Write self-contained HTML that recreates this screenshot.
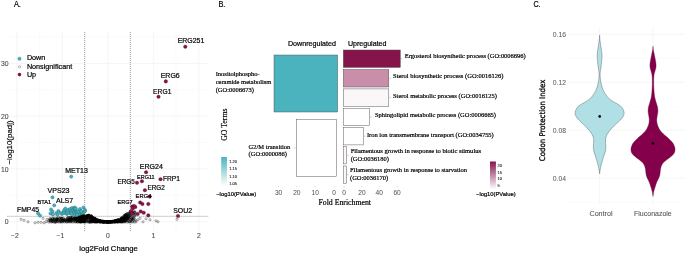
<!DOCTYPE html>
<html lang="en"><head><meta charset="utf-8"><title>Figure</title>
<style>
html,body{margin:0;padding:0;background:#fff;}
body{width:685px;height:254px;overflow:hidden;}
svg{display:block}
.s{font-family:"Liberation Sans", Arial, Helvetica, sans-serif;}
.r{font-family:"Liberation Serif", "Times New Roman", Times, serif;}
.d{font-family:"DejaVu Sans", "Liberation Sans", sans-serif;}
</style></head><body>
<svg width="685" height="254" viewBox="0 0 685 254">
<rect width="685" height="254" fill="#fff"/>
<g id="panelA">
<line x1="39.55" x2="39.55" y1="32" y2="232" stroke="#f5f5f5" stroke-width="0.4"/>
<line x1="85.05" x2="85.05" y1="32" y2="232" stroke="#f5f5f5" stroke-width="0.4"/>
<line x1="130.55" x2="130.55" y1="32" y2="232" stroke="#f5f5f5" stroke-width="0.4"/>
<line x1="176.05" x2="176.05" y1="32" y2="232" stroke="#f5f5f5" stroke-width="0.4"/>
<line x1="7.4" x2="208.2" y1="195.23" y2="195.23" stroke="#f5f5f5" stroke-width="0.4"/>
<line x1="7.4" x2="208.2" y1="142.50" y2="142.50" stroke="#f5f5f5" stroke-width="0.4"/>
<line x1="7.4" x2="208.2" y1="89.78" y2="89.78" stroke="#f5f5f5" stroke-width="0.4"/>
<line x1="7.4" x2="208.2" y1="37.05" y2="37.05" stroke="#f5f5f5" stroke-width="0.4"/>
<line x1="16.80" x2="16.80" y1="32" y2="232" stroke="#efefef" stroke-width="0.6"/>
<line x1="62.30" x2="62.30" y1="32" y2="232" stroke="#efefef" stroke-width="0.6"/>
<line x1="107.80" x2="107.80" y1="32" y2="232" stroke="#efefef" stroke-width="0.6"/>
<line x1="153.30" x2="153.30" y1="32" y2="232" stroke="#efefef" stroke-width="0.6"/>
<line x1="198.80" x2="198.80" y1="32" y2="232" stroke="#efefef" stroke-width="0.6"/>
<line x1="7.4" x2="208.2" y1="221.60" y2="221.60" stroke="#efefef" stroke-width="0.6"/>
<line x1="7.4" x2="208.2" y1="168.87" y2="168.87" stroke="#efefef" stroke-width="0.6"/>
<line x1="7.4" x2="208.2" y1="116.14" y2="116.14" stroke="#efefef" stroke-width="0.6"/>
<line x1="7.4" x2="208.2" y1="63.41" y2="63.41" stroke="#efefef" stroke-width="0.6"/>
<line x1="84.7" x2="84.7" y1="32" y2="232" stroke="#5a5a5a" stroke-width="0.6" stroke-dasharray="1 1"/>
<line x1="130.3" x2="130.3" y1="32" y2="232" stroke="#5a5a5a" stroke-width="0.6" stroke-dasharray="1 1"/>
<line x1="7.4" x2="208.2" y1="216.3" y2="216.3" stroke="#5a5a5a" stroke-width="0.6" stroke-dasharray="1 1"/>
<g fill="none" stroke="#000" stroke-width="0.35">
<circle cx="88.1" cy="217.2" r="1.1"/>
<circle cx="109.8" cy="221.8" r="1.1"/>
<circle cx="108.2" cy="222.0" r="1.1"/>
<circle cx="83.5" cy="221.1" r="1.1"/>
<circle cx="126.2" cy="220.6" r="1.1"/>
<circle cx="115.0" cy="220.8" r="1.1"/>
<circle cx="102.0" cy="221.1" r="1.1"/>
<circle cx="128.0" cy="218.5" r="1.1"/>
<circle cx="86.2" cy="219.4" r="1.1"/>
<circle cx="115.4" cy="221.1" r="1.1"/>
<circle cx="110.5" cy="222.0" r="1.1"/>
<circle cx="91.2" cy="217.3" r="1.1"/>
<circle cx="97.3" cy="220.5" r="1.1"/>
<circle cx="96.5" cy="219.7" r="1.1"/>
<circle cx="93.4" cy="219.0" r="1.1"/>
<circle cx="129.0" cy="213.3" r="1.1"/>
<circle cx="124.1" cy="220.8" r="1.1"/>
<circle cx="81.8" cy="217.0" r="1.1"/>
<circle cx="82.8" cy="219.4" r="1.1"/>
<circle cx="113.1" cy="221.5" r="1.1"/>
<circle cx="127.0" cy="213.4" r="1.1"/>
<circle cx="117.1" cy="221.8" r="1.1"/>
<circle cx="116.1" cy="220.5" r="1.1"/>
<circle cx="95.5" cy="220.8" r="1.1"/>
<circle cx="117.3" cy="221.9" r="1.1"/>
<circle cx="89.1" cy="220.6" r="1.1"/>
<circle cx="122.9" cy="221.1" r="1.1"/>
<circle cx="101.6" cy="221.1" r="1.1"/>
<circle cx="104.9" cy="221.7" r="1.1"/>
<circle cx="119.3" cy="221.0" r="1.1"/>
<circle cx="99.8" cy="220.7" r="1.1"/>
<circle cx="83.1" cy="220.6" r="1.1"/>
<circle cx="92.7" cy="220.5" r="1.1"/>
<circle cx="112.8" cy="221.8" r="1.1"/>
<circle cx="103.2" cy="221.7" r="1.1"/>
<circle cx="117.7" cy="221.8" r="1.1"/>
<circle cx="113.0" cy="221.4" r="1.1"/>
<circle cx="102.1" cy="221.9" r="1.1"/>
<circle cx="83.1" cy="221.3" r="1.1"/>
<circle cx="88.7" cy="218.5" r="1.1"/>
<circle cx="79.6" cy="220.6" r="1.1"/>
<circle cx="100.1" cy="222.0" r="1.1"/>
<circle cx="80.5" cy="217.4" r="1.1"/>
<circle cx="93.8" cy="220.2" r="1.1"/>
<circle cx="86.5" cy="215.9" r="1.1"/>
<circle cx="92.5" cy="221.3" r="1.1"/>
<circle cx="98.9" cy="221.4" r="1.1"/>
<circle cx="111.1" cy="221.9" r="1.1"/>
<circle cx="81.1" cy="217.9" r="1.1"/>
<circle cx="121.6" cy="220.6" r="1.1"/>
<circle cx="89.0" cy="215.1" r="1.1"/>
<circle cx="123.5" cy="219.8" r="1.1"/>
<circle cx="125.4" cy="214.7" r="1.1"/>
<circle cx="91.8" cy="217.1" r="1.1"/>
<circle cx="107.2" cy="221.8" r="1.1"/>
<circle cx="81.2" cy="221.7" r="1.1"/>
<circle cx="94.2" cy="219.0" r="1.1"/>
<circle cx="98.0" cy="220.9" r="1.1"/>
<circle cx="92.0" cy="220.4" r="1.1"/>
<circle cx="91.1" cy="217.6" r="1.1"/>
<circle cx="105.2" cy="221.6" r="1.1"/>
<circle cx="116.4" cy="220.6" r="1.1"/>
<circle cx="116.9" cy="220.3" r="1.1"/>
<circle cx="107.8" cy="221.9" r="1.1"/>
<circle cx="92.2" cy="219.8" r="1.1"/>
<circle cx="121.3" cy="220.1" r="1.1"/>
<circle cx="105.4" cy="221.7" r="1.1"/>
<circle cx="86.8" cy="220.6" r="1.1"/>
<circle cx="110.5" cy="221.6" r="1.1"/>
<circle cx="100.6" cy="221.2" r="1.1"/>
<circle cx="110.5" cy="221.9" r="1.1"/>
<circle cx="82.5" cy="216.1" r="1.1"/>
<circle cx="93.8" cy="220.4" r="1.1"/>
<circle cx="112.7" cy="221.8" r="1.1"/>
<circle cx="87.0" cy="215.5" r="1.1"/>
<circle cx="105.4" cy="221.7" r="1.1"/>
<circle cx="119.0" cy="220.7" r="1.1"/>
<circle cx="91.0" cy="218.2" r="1.1"/>
<circle cx="104.4" cy="221.9" r="1.1"/>
<circle cx="124.7" cy="220.5" r="1.1"/>
<circle cx="120.5" cy="219.8" r="1.1"/>
<circle cx="108.8" cy="221.8" r="1.1"/>
<circle cx="107.6" cy="222.0" r="1.1"/>
<circle cx="93.6" cy="220.5" r="1.1"/>
<circle cx="90.3" cy="216.2" r="1.1"/>
<circle cx="107.0" cy="221.8" r="1.1"/>
<circle cx="108.1" cy="221.8" r="1.1"/>
<circle cx="105.1" cy="221.7" r="1.1"/>
<circle cx="132.7" cy="213.5" r="1.1"/>
<circle cx="106.7" cy="221.6" r="1.1"/>
<circle cx="125.2" cy="220.7" r="1.1"/>
<circle cx="104.5" cy="222.0" r="1.1"/>
<circle cx="83.7" cy="217.0" r="1.1"/>
<circle cx="114.1" cy="221.3" r="1.1"/>
<circle cx="87.7" cy="215.7" r="1.1"/>
<circle cx="103.0" cy="221.8" r="1.1"/>
<circle cx="95.1" cy="218.4" r="1.1"/>
<circle cx="117.2" cy="221.6" r="1.1"/>
<circle cx="108.7" cy="221.9" r="1.1"/>
<circle cx="97.6" cy="220.3" r="1.1"/>
<circle cx="110.8" cy="221.8" r="1.1"/>
<circle cx="98.3" cy="220.7" r="1.1"/>
<circle cx="83.2" cy="215.1" r="1.1"/>
<circle cx="114.1" cy="221.7" r="1.1"/>
<circle cx="123.5" cy="220.1" r="1.1"/>
<circle cx="103.4" cy="221.4" r="1.1"/>
<circle cx="106.7" cy="221.9" r="1.1"/>
<circle cx="131.4" cy="214.9" r="1.1"/>
<circle cx="82.8" cy="216.9" r="1.1"/>
<circle cx="83.7" cy="215.4" r="1.1"/>
<circle cx="124.8" cy="221.2" r="1.1"/>
<circle cx="93.0" cy="221.3" r="1.1"/>
<circle cx="82.4" cy="220.2" r="1.1"/>
<circle cx="96.8" cy="219.9" r="1.1"/>
<circle cx="107.8" cy="221.9" r="1.1"/>
<circle cx="80.6" cy="219.9" r="1.1"/>
<circle cx="121.0" cy="219.7" r="1.1"/>
<circle cx="106.4" cy="221.6" r="1.1"/>
<circle cx="125.8" cy="218.2" r="1.1"/>
<circle cx="126.7" cy="218.1" r="1.1"/>
<circle cx="118.4" cy="219.6" r="1.1"/>
<circle cx="126.5" cy="215.6" r="1.1"/>
<circle cx="102.4" cy="221.7" r="1.1"/>
<circle cx="86.9" cy="221.3" r="1.1"/>
<circle cx="94.0" cy="221.1" r="1.1"/>
<circle cx="127.1" cy="213.9" r="1.1"/>
<circle cx="95.5" cy="221.0" r="1.1"/>
<circle cx="105.5" cy="221.9" r="1.1"/>
<circle cx="94.4" cy="218.1" r="1.1"/>
<circle cx="118.9" cy="220.4" r="1.1"/>
<circle cx="101.1" cy="221.4" r="1.1"/>
<circle cx="90.9" cy="218.2" r="1.1"/>
<circle cx="94.5" cy="221.5" r="1.1"/>
<circle cx="81.9" cy="221.7" r="1.1"/>
<circle cx="92.7" cy="218.7" r="1.1"/>
<circle cx="121.9" cy="218.8" r="1.1"/>
<circle cx="129.2" cy="216.9" r="1.1"/>
<circle cx="135.1" cy="219.7" r="1.1"/>
<circle cx="82.1" cy="216.0" r="1.1"/>
<circle cx="92.3" cy="217.4" r="1.1"/>
<circle cx="109.1" cy="221.8" r="1.1"/>
<circle cx="91.9" cy="217.1" r="1.1"/>
<circle cx="82.9" cy="217.0" r="1.1"/>
<circle cx="92.6" cy="221.7" r="1.1"/>
<circle cx="99.9" cy="221.8" r="1.1"/>
<circle cx="93.3" cy="219.1" r="1.1"/>
<circle cx="114.9" cy="221.1" r="1.1"/>
<circle cx="79.8" cy="216.2" r="1.1"/>
<circle cx="108.0" cy="221.8" r="1.1"/>
<circle cx="83.3" cy="216.6" r="1.1"/>
<circle cx="83.8" cy="219.7" r="1.1"/>
<circle cx="91.2" cy="217.0" r="1.1"/>
<circle cx="94.4" cy="219.8" r="1.1"/>
<circle cx="122.9" cy="218.5" r="1.1"/>
<circle cx="84.0" cy="220.6" r="1.1"/>
<circle cx="121.5" cy="220.5" r="1.1"/>
<circle cx="80.3" cy="221.4" r="1.1"/>
<circle cx="117.5" cy="220.5" r="1.1"/>
<circle cx="96.0" cy="220.2" r="1.1"/>
<circle cx="105.9" cy="221.9" r="1.1"/>
<circle cx="108.3" cy="221.9" r="1.1"/>
<circle cx="110.2" cy="221.8" r="1.1"/>
<circle cx="106.8" cy="221.6" r="1.1"/>
<circle cx="94.7" cy="221.0" r="1.1"/>
<circle cx="112.2" cy="221.9" r="1.1"/>
<circle cx="133.3" cy="220.0" r="1.1"/>
<circle cx="129.6" cy="213.5" r="1.1"/>
<circle cx="130.2" cy="215.8" r="1.1"/>
<circle cx="79.8" cy="218.2" r="1.1"/>
<circle cx="96.6" cy="221.5" r="1.1"/>
<circle cx="97.4" cy="220.0" r="1.1"/>
<circle cx="121.9" cy="218.1" r="1.1"/>
<circle cx="131.9" cy="213.4" r="1.1"/>
<circle cx="100.6" cy="221.5" r="1.1"/>
<circle cx="125.3" cy="217.4" r="1.1"/>
<circle cx="103.7" cy="221.8" r="1.1"/>
<circle cx="85.3" cy="216.0" r="1.1"/>
<circle cx="90.3" cy="218.8" r="1.1"/>
<circle cx="126.4" cy="216.3" r="1.1"/>
<circle cx="91.2" cy="215.8" r="1.1"/>
<circle cx="120.2" cy="221.8" r="1.1"/>
<circle cx="105.0" cy="221.6" r="1.1"/>
<circle cx="95.7" cy="221.8" r="1.1"/>
<circle cx="118.6" cy="221.0" r="1.1"/>
<circle cx="121.3" cy="218.0" r="1.1"/>
<circle cx="116.6" cy="221.4" r="1.1"/>
<circle cx="101.8" cy="221.8" r="1.1"/>
<circle cx="91.3" cy="216.1" r="1.1"/>
<circle cx="92.0" cy="216.7" r="1.1"/>
<circle cx="118.9" cy="220.6" r="1.1"/>
<circle cx="90.4" cy="221.1" r="1.1"/>
<circle cx="84.7" cy="219.9" r="1.1"/>
<circle cx="111.7" cy="221.5" r="1.1"/>
<circle cx="102.9" cy="221.7" r="1.1"/>
<circle cx="100.9" cy="221.6" r="1.1"/>
<circle cx="95.2" cy="218.6" r="1.1"/>
<circle cx="108.0" cy="221.7" r="1.1"/>
<circle cx="110.1" cy="221.9" r="1.1"/>
<circle cx="104.7" cy="221.5" r="1.1"/>
<circle cx="118.4" cy="219.8" r="1.1"/>
<circle cx="81.4" cy="216.8" r="1.1"/>
<circle cx="89.9" cy="222.0" r="1.1"/>
<circle cx="131.9" cy="212.3" r="1.1"/>
<circle cx="110.8" cy="221.9" r="1.1"/>
<circle cx="88.3" cy="218.0" r="1.1"/>
<circle cx="132.7" cy="213.3" r="1.1"/>
<circle cx="91.1" cy="221.6" r="1.1"/>
<circle cx="112.4" cy="221.8" r="1.1"/>
<circle cx="100.7" cy="221.8" r="1.1"/>
<circle cx="115.5" cy="221.0" r="1.1"/>
<circle cx="83.6" cy="218.0" r="1.1"/>
<circle cx="101.5" cy="221.7" r="1.1"/>
<circle cx="80.2" cy="219.5" r="1.1"/>
<circle cx="133.7" cy="214.1" r="1.1"/>
<circle cx="92.8" cy="220.4" r="1.1"/>
<circle cx="98.6" cy="220.6" r="1.1"/>
<circle cx="80.8" cy="218.1" r="1.1"/>
<circle cx="103.3" cy="221.8" r="1.1"/>
<circle cx="103.3" cy="221.5" r="1.1"/>
<circle cx="124.6" cy="216.9" r="1.1"/>
<circle cx="91.2" cy="215.6" r="1.1"/>
<circle cx="125.9" cy="219.8" r="1.1"/>
<circle cx="122.5" cy="220.3" r="1.1"/>
<circle cx="99.0" cy="221.5" r="1.1"/>
<circle cx="117.1" cy="220.2" r="1.1"/>
<circle cx="101.8" cy="221.8" r="1.1"/>
<circle cx="108.0" cy="221.9" r="1.1"/>
<circle cx="83.0" cy="218.8" r="1.1"/>
<circle cx="124.3" cy="215.6" r="1.1"/>
<circle cx="93.0" cy="220.1" r="1.1"/>
<circle cx="101.0" cy="221.5" r="1.1"/>
<circle cx="89.1" cy="222.0" r="1.1"/>
<circle cx="99.4" cy="220.5" r="1.1"/>
<circle cx="114.2" cy="221.9" r="1.1"/>
<circle cx="100.6" cy="220.9" r="1.1"/>
<circle cx="100.1" cy="220.8" r="1.1"/>
<circle cx="102.8" cy="221.4" r="1.1"/>
<circle cx="94.7" cy="221.8" r="1.1"/>
<circle cx="83.1" cy="215.5" r="1.1"/>
<circle cx="121.8" cy="218.0" r="1.1"/>
<circle cx="95.0" cy="218.4" r="1.1"/>
<circle cx="94.4" cy="218.9" r="1.1"/>
<circle cx="95.1" cy="222.0" r="1.1"/>
<circle cx="124.5" cy="215.7" r="1.1"/>
<circle cx="92.8" cy="219.3" r="1.1"/>
<circle cx="98.1" cy="220.0" r="1.1"/>
<circle cx="93.8" cy="219.8" r="1.1"/>
<circle cx="132.0" cy="219.3" r="1.1"/>
<circle cx="126.0" cy="215.6" r="1.1"/>
<circle cx="98.1" cy="221.2" r="1.1"/>
<circle cx="123.7" cy="221.3" r="1.1"/>
<circle cx="122.1" cy="220.6" r="1.1"/>
<circle cx="81.5" cy="217.8" r="1.1"/>
<circle cx="134.9" cy="211.7" r="1.1"/>
<circle cx="84.3" cy="221.1" r="1.1"/>
<circle cx="119.6" cy="220.4" r="1.1"/>
<circle cx="103.1" cy="221.5" r="1.1"/>
<circle cx="121.8" cy="218.1" r="1.1"/>
<circle cx="86.4" cy="216.0" r="1.1"/>
<circle cx="111.6" cy="221.8" r="1.1"/>
<circle cx="90.8" cy="219.9" r="1.1"/>
<circle cx="88.2" cy="215.7" r="1.1"/>
<circle cx="98.0" cy="221.0" r="1.1"/>
<circle cx="97.9" cy="220.2" r="1.1"/>
<circle cx="107.3" cy="221.7" r="1.1"/>
<circle cx="118.8" cy="221.6" r="1.1"/>
<circle cx="134.5" cy="214.8" r="1.1"/>
<circle cx="128.5" cy="216.6" r="1.1"/>
<circle cx="123.5" cy="216.6" r="1.1"/>
<circle cx="113.2" cy="221.5" r="1.1"/>
<circle cx="100.4" cy="221.8" r="1.1"/>
<circle cx="94.0" cy="219.2" r="1.1"/>
<circle cx="91.1" cy="221.9" r="1.1"/>
<circle cx="117.9" cy="221.5" r="1.1"/>
<circle cx="91.1" cy="216.6" r="1.1"/>
<circle cx="83.2" cy="221.0" r="1.1"/>
<circle cx="110.6" cy="221.7" r="1.1"/>
<circle cx="88.8" cy="215.5" r="1.1"/>
<circle cx="95.6" cy="220.8" r="1.1"/>
<circle cx="110.7" cy="221.8" r="1.1"/>
<circle cx="99.7" cy="221.3" r="1.1"/>
<circle cx="120.8" cy="221.1" r="1.1"/>
<circle cx="91.1" cy="221.9" r="1.1"/>
<circle cx="107.5" cy="221.8" r="1.1"/>
<circle cx="84.3" cy="218.4" r="1.1"/>
<circle cx="80.4" cy="217.8" r="1.1"/>
<circle cx="130.9" cy="220.6" r="1.1"/>
<circle cx="108.1" cy="221.9" r="1.1"/>
<circle cx="109.0" cy="221.6" r="1.1"/>
<circle cx="107.3" cy="221.7" r="1.1"/>
<circle cx="123.5" cy="220.6" r="1.1"/>
<circle cx="131.8" cy="216.9" r="1.1"/>
<circle cx="126.1" cy="220.3" r="1.1"/>
<circle cx="110.2" cy="221.6" r="1.1"/>
<circle cx="121.5" cy="221.0" r="1.1"/>
<circle cx="102.1" cy="221.5" r="1.1"/>
<circle cx="86.5" cy="219.9" r="1.1"/>
<circle cx="130.2" cy="221.3" r="1.1"/>
<circle cx="122.3" cy="221.7" r="1.1"/>
<circle cx="121.4" cy="219.5" r="1.1"/>
<circle cx="96.9" cy="220.7" r="1.1"/>
<circle cx="103.6" cy="221.6" r="1.1"/>
<circle cx="104.3" cy="222.0" r="1.1"/>
<circle cx="107.2" cy="221.9" r="1.1"/>
<circle cx="120.2" cy="219.2" r="1.1"/>
<circle cx="89.7" cy="217.8" r="1.1"/>
<circle cx="86.8" cy="218.6" r="1.1"/>
<circle cx="104.5" cy="221.7" r="1.1"/>
<circle cx="115.5" cy="221.9" r="1.1"/>
<circle cx="123.5" cy="218.8" r="1.1"/>
<circle cx="108.0" cy="221.8" r="1.1"/>
<circle cx="125.5" cy="214.6" r="1.1"/>
<circle cx="125.6" cy="220.1" r="1.1"/>
<circle cx="128.1" cy="216.4" r="1.1"/>
<circle cx="114.9" cy="221.0" r="1.1"/>
<circle cx="103.7" cy="222.0" r="1.1"/>
<circle cx="122.3" cy="221.0" r="1.1"/>
<circle cx="103.9" cy="221.9" r="1.1"/>
<circle cx="97.6" cy="221.9" r="1.1"/>
<circle cx="88.7" cy="215.4" r="1.1"/>
<circle cx="130.1" cy="219.5" r="1.1"/>
<circle cx="99.9" cy="220.7" r="1.1"/>
<circle cx="112.3" cy="221.4" r="1.1"/>
<circle cx="103.9" cy="221.6" r="1.1"/>
<circle cx="122.7" cy="219.4" r="1.1"/>
<circle cx="121.5" cy="221.7" r="1.1"/>
<circle cx="115.7" cy="220.6" r="1.1"/>
<circle cx="117.0" cy="221.3" r="1.1"/>
<circle cx="81.5" cy="220.6" r="1.1"/>
<circle cx="104.0" cy="221.7" r="1.1"/>
<circle cx="114.4" cy="221.3" r="1.1"/>
<circle cx="79.7" cy="219.1" r="1.1"/>
<circle cx="99.7" cy="221.6" r="1.1"/>
<circle cx="112.8" cy="221.8" r="1.1"/>
<circle cx="106.4" cy="221.9" r="1.1"/>
<circle cx="115.0" cy="221.6" r="1.1"/>
<circle cx="85.0" cy="217.2" r="1.1"/>
<circle cx="110.6" cy="221.9" r="1.1"/>
<circle cx="116.0" cy="221.1" r="1.1"/>
<circle cx="116.0" cy="221.2" r="1.1"/>
<circle cx="94.2" cy="218.8" r="1.1"/>
<circle cx="93.0" cy="221.6" r="1.1"/>
<circle cx="125.0" cy="215.3" r="1.1"/>
<circle cx="90.8" cy="217.5" r="1.1"/>
<circle cx="115.8" cy="220.8" r="1.1"/>
<circle cx="97.0" cy="221.1" r="1.1"/>
<circle cx="129.8" cy="212.7" r="1.1"/>
<circle cx="79.9" cy="215.9" r="1.1"/>
<circle cx="105.8" cy="221.7" r="1.1"/>
<circle cx="92.3" cy="221.2" r="1.1"/>
<circle cx="81.8" cy="219.3" r="1.1"/>
<circle cx="118.8" cy="219.7" r="1.1"/>
<circle cx="94.6" cy="219.6" r="1.1"/>
<circle cx="124.1" cy="218.4" r="1.1"/>
<circle cx="115.8" cy="220.6" r="1.1"/>
<circle cx="129.2" cy="221.7" r="1.1"/>
<circle cx="92.9" cy="218.0" r="1.1"/>
<circle cx="109.1" cy="221.7" r="1.1"/>
<circle cx="129.2" cy="217.6" r="1.1"/>
<circle cx="130.8" cy="214.3" r="1.1"/>
<circle cx="134.8" cy="216.0" r="1.1"/>
<circle cx="128.0" cy="217.0" r="1.1"/>
<circle cx="111.8" cy="221.8" r="1.1"/>
<circle cx="114.7" cy="221.9" r="1.1"/>
<circle cx="109.8" cy="222.0" r="1.1"/>
<circle cx="110.3" cy="221.8" r="1.1"/>
<circle cx="81.2" cy="221.6" r="1.1"/>
<circle cx="115.4" cy="221.0" r="1.1"/>
<circle cx="83.3" cy="217.5" r="1.1"/>
<circle cx="125.7" cy="215.5" r="1.1"/>
<circle cx="132.9" cy="211.4" r="1.1"/>
<circle cx="91.2" cy="221.0" r="1.1"/>
<circle cx="127.4" cy="214.0" r="1.1"/>
<circle cx="126.1" cy="216.5" r="1.1"/>
<circle cx="85.2" cy="221.0" r="1.1"/>
<circle cx="118.9" cy="221.3" r="1.1"/>
<circle cx="103.5" cy="222.0" r="1.1"/>
<circle cx="95.5" cy="219.5" r="1.1"/>
<circle cx="97.7" cy="219.8" r="1.1"/>
<circle cx="127.6" cy="215.5" r="1.1"/>
<circle cx="102.9" cy="221.7" r="1.1"/>
<circle cx="95.6" cy="220.1" r="1.1"/>
<circle cx="128.2" cy="220.7" r="1.1"/>
<circle cx="125.3" cy="220.4" r="1.1"/>
<circle cx="91.0" cy="216.7" r="1.1"/>
<circle cx="123.7" cy="218.8" r="1.1"/>
<circle cx="108.2" cy="221.9" r="1.1"/>
<circle cx="99.2" cy="220.6" r="1.1"/>
<circle cx="107.7" cy="222.0" r="1.1"/>
<circle cx="84.2" cy="216.3" r="1.1"/>
<circle cx="124.0" cy="217.9" r="1.1"/>
<circle cx="102.2" cy="221.6" r="1.1"/>
<circle cx="130.4" cy="215.6" r="1.1"/>
<circle cx="129.5" cy="218.7" r="1.1"/>
<circle cx="109.6" cy="221.7" r="1.1"/>
<circle cx="122.5" cy="218.6" r="1.1"/>
<circle cx="98.0" cy="221.6" r="1.1"/>
<circle cx="96.0" cy="221.3" r="1.1"/>
<circle cx="123.2" cy="218.5" r="1.1"/>
<circle cx="105.7" cy="221.6" r="1.1"/>
<circle cx="90.4" cy="219.4" r="1.1"/>
<circle cx="127.2" cy="220.1" r="1.1"/>
<circle cx="93.6" cy="220.2" r="1.1"/>
<circle cx="88.7" cy="219.3" r="1.1"/>
<circle cx="88.7" cy="221.0" r="1.1"/>
<circle cx="135.1" cy="212.6" r="1.1"/>
<circle cx="90.7" cy="217.2" r="1.1"/>
<circle cx="91.2" cy="219.1" r="1.1"/>
<circle cx="102.1" cy="221.3" r="1.1"/>
<circle cx="107.8" cy="221.7" r="1.1"/>
<circle cx="87.6" cy="217.5" r="1.1"/>
<circle cx="121.4" cy="218.2" r="1.1"/>
<circle cx="112.0" cy="221.5" r="1.1"/>
<circle cx="92.5" cy="217.9" r="1.1"/>
<circle cx="111.0" cy="221.6" r="1.1"/>
<circle cx="115.8" cy="221.3" r="1.1"/>
<circle cx="115.0" cy="221.8" r="1.1"/>
<circle cx="123.7" cy="217.6" r="1.1"/>
<circle cx="93.7" cy="219.8" r="1.1"/>
<circle cx="114.7" cy="221.5" r="1.1"/>
<circle cx="132.1" cy="219.3" r="1.1"/>
<circle cx="86.9" cy="218.9" r="1.1"/>
<circle cx="123.7" cy="216.4" r="1.1"/>
<circle cx="85.3" cy="217.6" r="1.1"/>
<circle cx="120.1" cy="220.1" r="1.1"/>
<circle cx="126.4" cy="217.2" r="1.1"/>
<circle cx="133.1" cy="219.0" r="1.1"/>
<circle cx="122.6" cy="221.2" r="1.1"/>
<circle cx="104.9" cy="221.9" r="1.1"/>
<circle cx="80.3" cy="218.7" r="1.1"/>
<circle cx="119.0" cy="220.9" r="1.1"/>
<circle cx="92.3" cy="217.7" r="1.1"/>
<circle cx="111.5" cy="221.7" r="1.1"/>
<circle cx="124.8" cy="218.9" r="1.1"/>
<circle cx="86.9" cy="216.4" r="1.1"/>
<circle cx="97.6" cy="220.6" r="1.1"/>
<circle cx="134.0" cy="217.3" r="1.1"/>
<circle cx="96.3" cy="219.6" r="1.1"/>
<circle cx="96.2" cy="220.2" r="1.1"/>
<circle cx="126.6" cy="218.4" r="1.1"/>
<circle cx="106.4" cy="221.9" r="1.1"/>
<circle cx="90.1" cy="222.0" r="1.1"/>
<circle cx="95.5" cy="221.0" r="1.1"/>
<circle cx="106.6" cy="221.8" r="1.1"/>
<circle cx="116.8" cy="221.3" r="1.1"/>
<circle cx="121.0" cy="218.6" r="1.1"/>
<circle cx="126.3" cy="214.4" r="1.1"/>
<circle cx="124.2" cy="217.7" r="1.1"/>
<circle cx="80.2" cy="215.3" r="1.1"/>
<circle cx="93.7" cy="221.4" r="1.1"/>
<circle cx="92.8" cy="217.8" r="1.1"/>
<circle cx="88.2" cy="215.6" r="1.1"/>
<circle cx="127.7" cy="219.9" r="1.1"/>
<circle cx="89.3" cy="216.1" r="1.1"/>
<circle cx="92.8" cy="217.8" r="1.1"/>
<circle cx="114.6" cy="221.4" r="1.1"/>
<circle cx="104.3" cy="221.5" r="1.1"/>
<circle cx="94.5" cy="220.9" r="1.1"/>
<circle cx="107.4" cy="222.0" r="1.1"/>
<circle cx="87.7" cy="218.2" r="1.1"/>
<circle cx="110.0" cy="221.6" r="1.1"/>
<circle cx="127.0" cy="217.3" r="1.1"/>
<circle cx="117.1" cy="220.3" r="1.1"/>
<circle cx="103.2" cy="221.3" r="1.1"/>
<circle cx="115.5" cy="221.1" r="1.1"/>
<circle cx="114.0" cy="221.3" r="1.1"/>
<circle cx="127.6" cy="218.2" r="1.1"/>
<circle cx="92.1" cy="216.8" r="1.1"/>
<circle cx="120.1" cy="219.7" r="1.1"/>
<circle cx="128.2" cy="217.6" r="1.1"/>
<circle cx="109.2" cy="221.7" r="1.1"/>
<circle cx="104.1" cy="221.7" r="1.1"/>
<circle cx="126.2" cy="219.1" r="1.1"/>
<circle cx="106.8" cy="221.8" r="1.1"/>
<circle cx="94.9" cy="219.9" r="1.1"/>
<circle cx="94.1" cy="220.4" r="1.1"/>
<circle cx="96.5" cy="220.2" r="1.1"/>
<circle cx="123.8" cy="221.6" r="1.1"/>
<circle cx="129.6" cy="215.2" r="1.1"/>
<circle cx="96.5" cy="222.0" r="1.1"/>
<circle cx="131.6" cy="214.5" r="1.1"/>
<circle cx="87.8" cy="215.6" r="1.1"/>
<circle cx="114.4" cy="221.3" r="1.1"/>
<circle cx="113.2" cy="221.4" r="1.1"/>
<circle cx="117.2" cy="221.0" r="1.1"/>
<circle cx="114.7" cy="222.0" r="1.1"/>
<circle cx="112.9" cy="221.3" r="1.1"/>
<circle cx="100.4" cy="220.9" r="1.1"/>
<circle cx="98.0" cy="221.3" r="1.1"/>
<circle cx="97.6" cy="220.9" r="1.1"/>
<circle cx="132.3" cy="221.1" r="1.1"/>
<circle cx="86.3" cy="216.2" r="1.1"/>
<circle cx="113.0" cy="221.3" r="1.1"/>
<circle cx="103.8" cy="221.7" r="1.1"/>
<circle cx="85.3" cy="217.2" r="1.1"/>
<circle cx="88.2" cy="221.8" r="1.1"/>
<circle cx="118.2" cy="221.6" r="1.1"/>
<circle cx="93.3" cy="218.3" r="1.1"/>
<circle cx="82.4" cy="216.4" r="1.1"/>
<circle cx="127.9" cy="214.4" r="1.1"/>
<circle cx="115.1" cy="221.1" r="1.1"/>
<circle cx="132.2" cy="218.4" r="1.1"/>
<circle cx="80.2" cy="221.8" r="1.1"/>
<circle cx="125.7" cy="221.1" r="1.1"/>
<circle cx="120.7" cy="221.2" r="1.1"/>
<circle cx="122.3" cy="219.4" r="1.1"/>
<circle cx="100.3" cy="221.2" r="1.1"/>
<circle cx="117.8" cy="221.6" r="1.1"/>
<circle cx="95.0" cy="219.5" r="1.1"/>
<circle cx="101.4" cy="221.2" r="1.1"/>
<circle cx="122.7" cy="217.9" r="1.1"/>
<circle cx="96.1" cy="221.7" r="1.1"/>
<circle cx="100.4" cy="221.5" r="1.1"/>
<circle cx="134.7" cy="212.2" r="1.1"/>
<circle cx="103.8" cy="221.5" r="1.1"/>
<circle cx="118.2" cy="220.5" r="1.1"/>
<circle cx="83.3" cy="216.2" r="1.1"/>
<circle cx="79.7" cy="219.8" r="1.1"/>
<circle cx="112.7" cy="221.4" r="1.1"/>
<circle cx="132.7" cy="212.4" r="1.1"/>
<circle cx="95.0" cy="218.8" r="1.1"/>
<circle cx="114.6" cy="221.2" r="1.1"/>
<circle cx="104.5" cy="221.7" r="1.1"/>
<circle cx="112.5" cy="221.8" r="1.1"/>
<circle cx="116.9" cy="220.8" r="1.1"/>
<circle cx="105.8" cy="221.9" r="1.1"/>
<circle cx="122.0" cy="218.3" r="1.1"/>
<circle cx="84.5" cy="216.2" r="1.1"/>
<circle cx="103.7" cy="221.8" r="1.1"/>
<circle cx="130.2" cy="211.7" r="1.1"/>
<circle cx="106.5" cy="221.7" r="1.1"/>
<circle cx="90.4" cy="220.3" r="1.1"/>
<circle cx="100.1" cy="221.2" r="1.1"/>
<circle cx="108.8" cy="221.9" r="1.1"/>
<circle cx="124.0" cy="220.7" r="1.1"/>
<circle cx="99.1" cy="221.0" r="1.1"/>
<circle cx="81.5" cy="215.1" r="1.1"/>
<circle cx="90.2" cy="219.6" r="1.1"/>
<circle cx="109.3" cy="221.8" r="1.1"/>
<circle cx="110.5" cy="221.5" r="1.1"/>
<circle cx="81.7" cy="220.2" r="1.1"/>
<circle cx="84.3" cy="221.5" r="1.1"/>
<circle cx="128.7" cy="216.3" r="1.1"/>
<circle cx="82.7" cy="215.5" r="1.1"/>
<circle cx="113.3" cy="221.6" r="1.1"/>
<circle cx="133.7" cy="218.4" r="1.1"/>
<circle cx="88.6" cy="215.2" r="1.1"/>
<circle cx="108.5" cy="221.9" r="1.1"/>
<circle cx="130.5" cy="211.5" r="1.1"/>
<circle cx="111.6" cy="222.0" r="1.1"/>
<circle cx="102.9" cy="221.3" r="1.1"/>
<circle cx="87.8" cy="216.5" r="1.1"/>
<circle cx="88.7" cy="215.6" r="1.1"/>
<circle cx="113.0" cy="221.4" r="1.1"/>
<circle cx="97.9" cy="221.3" r="1.1"/>
<circle cx="106.7" cy="221.9" r="1.1"/>
<circle cx="87.7" cy="217.0" r="1.1"/>
<circle cx="120.1" cy="221.2" r="1.1"/>
<circle cx="131.9" cy="218.8" r="1.1"/>
<circle cx="113.5" cy="221.6" r="1.1"/>
<circle cx="132.0" cy="212.1" r="1.1"/>
<circle cx="98.8" cy="220.5" r="1.1"/>
<circle cx="115.0" cy="221.8" r="1.1"/>
<circle cx="82.8" cy="216.8" r="1.1"/>
<circle cx="87.8" cy="215.8" r="1.1"/>
<circle cx="102.8" cy="221.9" r="1.1"/>
<circle cx="127.0" cy="218.5" r="1.1"/>
<circle cx="107.3" cy="221.9" r="1.1"/>
<circle cx="103.0" cy="221.9" r="1.1"/>
<circle cx="95.7" cy="221.0" r="1.1"/>
<circle cx="100.1" cy="220.7" r="1.1"/>
<circle cx="117.9" cy="219.9" r="1.1"/>
<circle cx="95.9" cy="219.1" r="1.1"/>
<circle cx="120.6" cy="220.7" r="1.1"/>
<circle cx="126.5" cy="217.0" r="1.1"/>
<circle cx="104.1" cy="221.5" r="1.1"/>
<circle cx="111.8" cy="221.9" r="1.1"/>
<circle cx="123.1" cy="218.0" r="1.1"/>
<circle cx="84.1" cy="221.1" r="1.1"/>
<circle cx="107.5" cy="221.9" r="1.1"/>
<circle cx="114.1" cy="221.3" r="1.1"/>
<circle cx="110.3" cy="221.7" r="1.1"/>
<circle cx="83.3" cy="216.6" r="1.1"/>
<circle cx="120.3" cy="221.7" r="1.1"/>
<circle cx="94.4" cy="218.4" r="1.1"/>
<circle cx="80.5" cy="215.5" r="1.1"/>
<circle cx="128.8" cy="218.4" r="1.1"/>
<circle cx="126.5" cy="218.4" r="1.1"/>
<circle cx="100.5" cy="221.2" r="1.1"/>
<circle cx="108.9" cy="221.8" r="1.1"/>
<circle cx="86.4" cy="216.8" r="1.1"/>
<circle cx="130.3" cy="211.9" r="1.1"/>
<circle cx="119.7" cy="220.6" r="1.1"/>
<circle cx="109.5" cy="221.8" r="1.1"/>
<circle cx="93.7" cy="218.2" r="1.1"/>
<circle cx="85.0" cy="216.8" r="1.1"/>
<circle cx="80.6" cy="217.5" r="1.1"/>
<circle cx="109.1" cy="221.7" r="1.1"/>
<circle cx="128.6" cy="213.8" r="1.1"/>
<circle cx="86.5" cy="218.2" r="1.1"/>
<circle cx="95.4" cy="221.4" r="1.1"/>
<circle cx="87.3" cy="217.5" r="1.1"/>
<circle cx="118.2" cy="221.5" r="1.1"/>
<circle cx="121.7" cy="221.1" r="1.1"/>
<circle cx="120.3" cy="220.3" r="1.1"/>
<circle cx="102.6" cy="221.6" r="1.1"/>
<circle cx="98.5" cy="221.1" r="1.1"/>
<circle cx="117.9" cy="220.1" r="1.1"/>
<circle cx="108.8" cy="221.6" r="1.1"/>
<circle cx="107.9" cy="221.7" r="1.1"/>
<circle cx="109.5" cy="222.0" r="1.1"/>
<circle cx="108.1" cy="222.0" r="1.1"/>
<circle cx="134.3" cy="212.7" r="1.1"/>
<circle cx="125.2" cy="215.5" r="1.1"/>
<circle cx="122.1" cy="221.8" r="1.1"/>
<circle cx="94.6" cy="219.2" r="1.1"/>
<circle cx="110.2" cy="221.6" r="1.1"/>
<circle cx="93.7" cy="219.4" r="1.1"/>
<circle cx="86.4" cy="217.5" r="1.1"/>
<circle cx="97.0" cy="220.7" r="1.1"/>
<circle cx="70.9" cy="221.2" r="1.1"/>
<circle cx="83.5" cy="221.2" r="1.1"/>
<circle cx="79.3" cy="219.8" r="1.1"/>
<circle cx="79.4" cy="220.6" r="1.1"/>
<circle cx="84.1" cy="219.0" r="1.1"/>
<circle cx="57.0" cy="219.3" r="1.1"/>
<circle cx="69.4" cy="218.8" r="1.1"/>
<circle cx="81.8" cy="218.2" r="1.1"/>
<circle cx="73.7" cy="219.2" r="1.1"/>
<circle cx="67.6" cy="219.7" r="1.1"/>
<circle cx="78.8" cy="220.6" r="1.1"/>
<circle cx="81.3" cy="219.2" r="1.1"/>
<circle cx="76.4" cy="218.9" r="1.1"/>
<circle cx="85.0" cy="220.0" r="1.1"/>
<circle cx="55.9" cy="220.8" r="1.1"/>
<circle cx="69.9" cy="219.5" r="1.1"/>
<circle cx="79.5" cy="217.0" r="1.1"/>
<circle cx="79.2" cy="218.0" r="1.1"/>
<circle cx="82.8" cy="221.6" r="1.1"/>
<circle cx="55.4" cy="220.0" r="1.1"/>
<circle cx="84.5" cy="219.8" r="1.1"/>
<circle cx="74.4" cy="218.3" r="1.1"/>
<circle cx="83.7" cy="220.7" r="1.1"/>
<circle cx="50.8" cy="218.9" r="1.1"/>
<circle cx="82.8" cy="220.1" r="1.1"/>
<circle cx="77.4" cy="218.5" r="1.1"/>
<circle cx="67.4" cy="218.0" r="1.1"/>
<circle cx="58.0" cy="219.6" r="1.1"/>
<circle cx="61.9" cy="218.6" r="1.1"/>
<circle cx="60.9" cy="219.8" r="1.1"/>
<circle cx="59.7" cy="218.8" r="1.1"/>
<circle cx="53.2" cy="221.4" r="1.1"/>
<circle cx="55.5" cy="222.0" r="1.1"/>
<circle cx="60.7" cy="219.3" r="1.1"/>
<circle cx="72.3" cy="217.4" r="1.1"/>
<circle cx="69.3" cy="219.9" r="1.1"/>
<circle cx="59.8" cy="218.1" r="1.1"/>
<circle cx="67.8" cy="220.1" r="1.1"/>
<circle cx="74.0" cy="219.6" r="1.1"/>
<circle cx="62.7" cy="220.5" r="1.1"/>
<circle cx="76.2" cy="219.1" r="1.1"/>
<circle cx="76.4" cy="220.2" r="1.1"/>
<circle cx="59.6" cy="218.2" r="1.1"/>
<circle cx="72.2" cy="219.7" r="1.1"/>
<circle cx="82.2" cy="220.3" r="1.1"/>
<circle cx="83.0" cy="218.9" r="1.1"/>
<circle cx="68.9" cy="221.5" r="1.1"/>
<circle cx="52.9" cy="220.5" r="1.1"/>
<circle cx="56.9" cy="218.4" r="1.1"/>
<circle cx="50.9" cy="221.0" r="1.1"/>
<circle cx="74.9" cy="217.5" r="1.1"/>
<circle cx="85.0" cy="221.7" r="1.1"/>
<circle cx="69.6" cy="219.5" r="1.1"/>
<circle cx="52.9" cy="218.7" r="1.1"/>
<circle cx="70.7" cy="217.3" r="1.1"/>
<circle cx="71.5" cy="219.4" r="1.1"/>
<circle cx="64.4" cy="220.1" r="1.1"/>
<circle cx="77.3" cy="218.9" r="1.1"/>
<circle cx="77.5" cy="217.2" r="1.1"/>
<circle cx="64.8" cy="219.5" r="1.1"/>
<circle cx="83.9" cy="219.9" r="1.1"/>
<circle cx="75.8" cy="219.1" r="1.1"/>
<circle cx="69.2" cy="217.8" r="1.1"/>
<circle cx="50.6" cy="219.9" r="1.1"/>
<circle cx="74.4" cy="218.8" r="1.1"/>
<circle cx="48.9" cy="220.5" r="1.1"/>
<circle cx="71.0" cy="218.0" r="1.1"/>
<circle cx="82.5" cy="220.2" r="1.1"/>
<circle cx="49.8" cy="218.6" r="1.1"/>
<circle cx="71.7" cy="221.4" r="1.1"/>
<circle cx="54.3" cy="219.0" r="1.1"/>
<circle cx="58.0" cy="217.7" r="1.1"/>
<circle cx="54.6" cy="220.1" r="1.1"/>
<circle cx="82.8" cy="220.3" r="1.1"/>
<circle cx="71.7" cy="219.4" r="1.1"/>
<circle cx="82.1" cy="220.9" r="1.1"/>
<circle cx="66.8" cy="219.1" r="1.1"/>
<circle cx="77.4" cy="217.0" r="1.1"/>
<circle cx="66.6" cy="221.8" r="1.1"/>
<circle cx="75.4" cy="218.0" r="1.1"/>
<circle cx="78.9" cy="218.4" r="1.1"/>
<circle cx="85.0" cy="220.2" r="1.1"/>
<circle cx="56.9" cy="219.4" r="1.1"/>
<circle cx="65.2" cy="221.0" r="1.1"/>
<circle cx="72.3" cy="219.2" r="1.1"/>
<circle cx="80.1" cy="218.6" r="1.1"/>
<circle cx="70.9" cy="217.3" r="1.1"/>
<circle cx="69.2" cy="219.9" r="1.1"/>
<circle cx="83.5" cy="221.0" r="1.1"/>
<circle cx="61.0" cy="221.4" r="1.1"/>
<circle cx="83.9" cy="221.0" r="1.1"/>
<circle cx="71.3" cy="218.0" r="1.1"/>
<circle cx="67.6" cy="218.2" r="1.1"/>
<circle cx="84.5" cy="221.9" r="1.1"/>
<circle cx="60.4" cy="220.4" r="1.1"/>
<circle cx="63.0" cy="220.3" r="1.1"/>
<circle cx="82.5" cy="220.4" r="1.1"/>
<circle cx="83.9" cy="217.2" r="1.1"/>
<circle cx="68.9" cy="220.2" r="1.1"/>
<circle cx="74.1" cy="219.9" r="1.1"/>
<circle cx="84.6" cy="217.3" r="1.1"/>
<circle cx="68.9" cy="217.5" r="1.1"/>
<circle cx="74.4" cy="218.8" r="1.1"/>
<circle cx="80.5" cy="221.7" r="1.1"/>
<circle cx="52.4" cy="218.4" r="1.1"/>
<circle cx="78.6" cy="217.4" r="1.1"/>
<circle cx="58.2" cy="220.5" r="1.1"/>
<circle cx="68.0" cy="217.5" r="1.1"/>
<circle cx="72.4" cy="217.4" r="1.1"/>
<circle cx="80.7" cy="219.8" r="1.1"/>
<circle cx="62.9" cy="220.9" r="1.1"/>
<circle cx="78.8" cy="217.5" r="1.1"/>
<circle cx="72.8" cy="218.1" r="1.1"/>
<circle cx="80.7" cy="221.0" r="1.1"/>
<circle cx="77.2" cy="220.9" r="1.1"/>
<circle cx="50.2" cy="220.7" r="1.1"/>
<circle cx="69.7" cy="221.3" r="1.1"/>
<circle cx="70.9" cy="220.0" r="1.1"/>
<circle cx="75.7" cy="221.6" r="1.1"/>
<circle cx="83.5" cy="217.6" r="1.1"/>
<circle cx="77.5" cy="220.6" r="1.1"/>
<circle cx="82.0" cy="220.4" r="1.1"/>
<circle cx="80.8" cy="221.8" r="1.1"/>
<circle cx="65.3" cy="220.3" r="1.1"/>
<circle cx="82.8" cy="218.2" r="1.1"/>
<circle cx="84.0" cy="220.4" r="1.1"/>
<circle cx="57.3" cy="221.3" r="1.1"/>
<circle cx="74.3" cy="217.9" r="1.1"/>
<circle cx="58.8" cy="221.2" r="1.1"/>
<circle cx="77.4" cy="218.3" r="1.1"/>
<circle cx="76.6" cy="217.2" r="1.1"/>
<circle cx="81.6" cy="217.1" r="1.1"/>
<circle cx="72.0" cy="220.8" r="1.1"/>
<circle cx="74.0" cy="221.2" r="1.1"/>
<circle cx="63.4" cy="220.7" r="1.1"/>
<circle cx="54.0" cy="219.4" r="1.1"/>
<circle cx="76.9" cy="220.6" r="1.1"/>
<circle cx="67.8" cy="220.9" r="1.1"/>
<circle cx="55.4" cy="221.4" r="1.1"/>
<circle cx="71.7" cy="219.2" r="1.1"/>
<circle cx="79.9" cy="218.0" r="1.1"/>
<circle cx="76.4" cy="218.6" r="1.1"/>
<circle cx="69.5" cy="220.4" r="1.1"/>
<circle cx="76.2" cy="221.5" r="1.1"/>
<circle cx="82.3" cy="217.5" r="1.1"/>
<circle cx="78.4" cy="218.5" r="1.1"/>
<circle cx="83.7" cy="218.9" r="1.1"/>
<circle cx="77.1" cy="219.3" r="1.1"/>
<circle cx="79.2" cy="221.6" r="1.1"/>
<circle cx="78.7" cy="220.7" r="1.1"/>
<circle cx="83.4" cy="218.2" r="1.1"/>
<circle cx="79.6" cy="219.8" r="1.1"/>
<circle cx="53.5" cy="218.7" r="1.1"/>
<circle cx="54.9" cy="218.3" r="1.1"/>
<circle cx="83.3" cy="220.4" r="1.1"/>
<circle cx="84.9" cy="218.3" r="1.1"/>
<circle cx="65.4" cy="220.2" r="1.1"/>
<circle cx="75.4" cy="218.6" r="1.1"/>
<circle cx="63.8" cy="220.7" r="1.1"/>
<circle cx="56.7" cy="220.3" r="1.1"/>
<circle cx="66.9" cy="221.0" r="1.1"/>
<circle cx="83.6" cy="217.2" r="1.1"/>
<circle cx="62.2" cy="218.7" r="1.1"/>
<circle cx="84.8" cy="221.7" r="1.1"/>
<circle cx="82.7" cy="220.8" r="1.1"/>
<circle cx="79.0" cy="219.9" r="1.1"/>
<circle cx="84.8" cy="220.2" r="1.1"/>
<circle cx="66.5" cy="221.0" r="1.1"/>
<circle cx="57.1" cy="219.4" r="1.1"/>
<circle cx="63.0" cy="220.7" r="1.1"/>
<circle cx="74.6" cy="218.5" r="1.1"/>
<circle cx="77.5" cy="222.0" r="1.1"/>
<circle cx="57.3" cy="218.6" r="1.1"/>
<circle cx="79.5" cy="221.7" r="1.1"/>
<circle cx="56.3" cy="219.3" r="1.1"/>
<circle cx="84.7" cy="220.5" r="1.1"/>
<circle cx="83.7" cy="217.8" r="1.1"/>
<circle cx="81.5" cy="217.3" r="1.1"/>
<circle cx="61.4" cy="221.5" r="1.1"/>
<circle cx="64.0" cy="220.1" r="1.1"/>
<circle cx="61.5" cy="218.3" r="1.1"/>
<circle cx="79.6" cy="221.4" r="1.1"/>
<circle cx="51.5" cy="220.1" r="1.1"/>
<circle cx="52.4" cy="219.1" r="1.1"/>
<circle cx="61.9" cy="218.2" r="1.1"/>
<circle cx="66.9" cy="219.7" r="1.1"/>
<circle cx="84.6" cy="218.2" r="1.1"/>
<circle cx="74.8" cy="219.3" r="1.1"/>
<circle cx="52.5" cy="221.4" r="1.1"/>
<circle cx="60.8" cy="221.8" r="1.1"/>
<circle cx="63.6" cy="218.3" r="1.1"/>
<circle cx="80.2" cy="219.1" r="1.1"/>
<circle cx="50.3" cy="219.3" r="1.1"/>
<circle cx="70.4" cy="220.7" r="1.1"/>
<circle cx="84.5" cy="219.9" r="1.1"/>
<circle cx="75.4" cy="220.9" r="1.1"/>
<circle cx="78.8" cy="221.2" r="1.1"/>
<circle cx="63.4" cy="218.9" r="1.1"/>
<circle cx="80.8" cy="220.6" r="1.1"/>
<circle cx="71.6" cy="219.7" r="1.1"/>
<circle cx="52.1" cy="220.4" r="1.1"/>
<circle cx="79.1" cy="217.5" r="1.1"/>
<circle cx="83.1" cy="218.9" r="1.1"/>
<circle cx="78.0" cy="217.8" r="1.1"/>
<circle cx="70.3" cy="218.3" r="1.1"/>
<circle cx="82.5" cy="218.4" r="1.1"/>
<circle cx="68.2" cy="219.7" r="1.1"/>
<circle cx="60.6" cy="218.3" r="1.1"/>
<circle cx="83.6" cy="220.3" r="1.1"/>
<circle cx="77.2" cy="220.8" r="1.1"/>
<circle cx="48.6" cy="222.0" r="1.1"/>
<circle cx="50.2" cy="222.0" r="1.1"/>
<circle cx="51.8" cy="222.0" r="1.1"/>
<circle cx="53.4" cy="222.0" r="1.1"/>
<circle cx="55.0" cy="222.0" r="1.1"/>
<circle cx="56.6" cy="222.0" r="1.1"/>
<circle cx="58.2" cy="222.0" r="1.1"/>
<circle cx="59.7" cy="222.0" r="1.1"/>
<circle cx="61.3" cy="222.0" r="1.1"/>
<circle cx="62.9" cy="222.0" r="1.1"/>
<circle cx="64.5" cy="222.0" r="1.1"/>
<circle cx="66.1" cy="222.0" r="1.1"/>
<circle cx="67.7" cy="222.0" r="1.1"/>
<circle cx="69.2" cy="222.0" r="1.1"/>
<circle cx="70.8" cy="222.0" r="1.1"/>
<circle cx="72.4" cy="222.0" r="1.1"/>
<circle cx="74.0" cy="222.0" r="1.1"/>
<circle cx="75.6" cy="222.0" r="1.1"/>
<circle cx="77.2" cy="222.0" r="1.1"/>
<circle cx="78.8" cy="222.0" r="1.1"/>
<circle cx="80.3" cy="222.0" r="1.1"/>
<circle cx="81.9" cy="222.0" r="1.1"/>
<circle cx="83.5" cy="222.0" r="1.1"/>
<circle cx="85.1" cy="222.0" r="1.1"/>
<circle cx="86.7" cy="222.0" r="1.1"/>
<circle cx="88.3" cy="222.0" r="1.1"/>
<circle cx="89.8" cy="222.0" r="1.1"/>
<circle cx="91.4" cy="222.0" r="1.1"/>
<circle cx="93.0" cy="222.0" r="1.1"/>
<circle cx="94.6" cy="222.0" r="1.1"/>
<circle cx="96.2" cy="222.0" r="1.1"/>
<circle cx="97.8" cy="222.0" r="1.1"/>
<circle cx="99.3" cy="222.0" r="1.1"/>
<circle cx="100.9" cy="222.0" r="1.1"/>
<circle cx="102.5" cy="222.0" r="1.1"/>
<circle cx="104.1" cy="222.0" r="1.1"/>
<circle cx="105.7" cy="222.0" r="1.1"/>
<circle cx="107.3" cy="222.0" r="1.1"/>
<circle cx="108.9" cy="222.0" r="1.1"/>
<circle cx="110.4" cy="222.0" r="1.1"/>
<circle cx="112.0" cy="222.0" r="1.1"/>
<circle cx="113.6" cy="222.0" r="1.1"/>
<circle cx="115.2" cy="222.0" r="1.1"/>
<circle cx="116.8" cy="222.0" r="1.1"/>
<circle cx="118.4" cy="222.0" r="1.1"/>
<circle cx="119.9" cy="222.0" r="1.1"/>
<circle cx="121.5" cy="222.0" r="1.1"/>
<circle cx="123.1" cy="222.0" r="1.1"/>
<circle cx="124.7" cy="222.0" r="1.1"/>
<circle cx="126.3" cy="222.0" r="1.1"/>
<circle cx="127.9" cy="222.0" r="1.1"/>
<circle cx="129.5" cy="222.0" r="1.1"/>
<circle cx="131.0" cy="222.0" r="1.1"/>
<circle cx="132.6" cy="222.0" r="1.1"/>
<circle cx="134.2" cy="222.0" r="1.1"/>
<circle cx="135.8" cy="222.0" r="1.1"/>
<circle cx="21.0" cy="219.3" r="1.1"/>
<circle cx="28.0" cy="221.8" r="1.1"/>
<circle cx="35.0" cy="222.8" r="1.1"/>
<circle cx="38.0" cy="222.3" r="1.1"/>
<circle cx="41.0" cy="222.3" r="1.1"/>
<circle cx="44.0" cy="222.8" r="1.1"/>
<circle cx="46.0" cy="221.8" r="1.1"/>
<circle cx="49.0" cy="220.3" r="1.1"/>
<circle cx="52.0" cy="221.3" r="1.1"/>
<circle cx="55.0" cy="222.3" r="1.1"/>
<circle cx="57.0" cy="219.8" r="1.1"/>
<circle cx="60.0" cy="220.8" r="1.1"/>
<circle cx="143.0" cy="221.8" r="1.1"/>
<circle cx="156.0" cy="220.8" r="1.1"/>
<circle cx="158.0" cy="221.8" r="1.1"/>
<circle cx="177.0" cy="219.3" r="1.1"/>
<circle cx="150.0" cy="219.8" r="1.1"/>
<circle cx="146.0" cy="218.8" r="1.1"/>
<circle cx="140.0" cy="218.3" r="1.1"/>
<circle cx="138.0" cy="219.8" r="1.1"/>
<circle cx="135.0" cy="214.8" r="1.1"/>
<circle cx="133.0" cy="217.3" r="1.1"/>
<circle cx="136.0" cy="220.8" r="1.1"/>
<circle cx="24.0" cy="220.3" r="1.1"/>
<circle cx="43.0" cy="218.3" r="1.1"/>
<circle cx="47.0" cy="219.3" r="1.1"/>
</g>
<g fill="#4ab2bd" stroke="#1f737d" stroke-width="0.45">
<circle cx="52.5" cy="197.3" r="1.6"/>
<circle cx="54.2" cy="205.3" r="1.6"/>
<circle cx="51" cy="209.5" r="1.6"/>
<circle cx="52.5" cy="211.5" r="1.6"/>
<circle cx="50.5" cy="213.5" r="1.6"/>
<circle cx="53" cy="214.5" r="1.6"/>
<circle cx="38.1" cy="213.4" r="1.6"/>
<circle cx="40" cy="215.6" r="1.6"/>
<circle cx="71.2" cy="176.6" r="1.6"/>
<circle cx="58.5" cy="211" r="1.6"/>
<circle cx="62" cy="214" r="1.6"/>
<circle cx="63.5" cy="212" r="1.6"/>
<circle cx="65" cy="213" r="1.6"/>
<circle cx="66.5" cy="211" r="1.6"/>
<circle cx="68" cy="210" r="1.6"/>
<circle cx="69" cy="212.5" r="1.6"/>
<circle cx="70" cy="209" r="1.6"/>
<circle cx="71" cy="211" r="1.6"/>
<circle cx="72" cy="208" r="1.6"/>
<circle cx="73" cy="210.5" r="1.6"/>
<circle cx="74" cy="212" r="1.6"/>
<circle cx="75" cy="209.5" r="1.6"/>
<circle cx="76" cy="212" r="1.6"/>
<circle cx="77" cy="211" r="1.6"/>
<circle cx="78" cy="213" r="1.6"/>
<circle cx="80" cy="209" r="1.6"/>
<circle cx="81" cy="211.5" r="1.6"/>
<circle cx="82" cy="213" r="1.6"/>
<circle cx="83.5" cy="207.5" r="1.6"/>
<circle cx="84" cy="212" r="1.6"/>
<circle cx="79" cy="214" r="1.6"/>
<circle cx="67" cy="214" r="1.6"/>
<circle cx="60.5" cy="213" r="1.6"/>
<circle cx="72.5" cy="214" r="1.6"/>
<circle cx="85" cy="210" r="1.6"/>
<circle cx="74.5" cy="207.5" r="1.6"/>
<circle cx="70.5" cy="213.5" r="1.6"/>
<circle cx="56.5" cy="213" r="1.6"/>
<circle cx="63.7" cy="212.4" r="1.6"/>
<circle cx="67.4" cy="212.7" r="1.6"/>
<circle cx="74.5" cy="208.5" r="1.6"/>
<circle cx="57.4" cy="214.8" r="1.6"/>
<circle cx="64.3" cy="210.0" r="1.6"/>
<circle cx="84.9" cy="211.2" r="1.6"/>
<circle cx="80.4" cy="211.4" r="1.6"/>
<circle cx="74.9" cy="209.1" r="1.6"/>
<circle cx="74.8" cy="214.5" r="1.6"/>
<circle cx="71.6" cy="213.6" r="1.6"/>
<circle cx="75.8" cy="208.4" r="1.6"/>
<circle cx="78.2" cy="212.3" r="1.6"/>
<circle cx="65.4" cy="208.5" r="1.6"/>
<circle cx="81.2" cy="211.3" r="1.6"/>
<circle cx="77.1" cy="214.5" r="1.6"/>
<circle cx="77.0" cy="214.8" r="1.6"/>
</g>
<g fill="#85144b" stroke="#5d0c33" stroke-width="0.3">
<circle cx="185.3" cy="46.7" r="1.8"/>
<circle cx="165.8" cy="81.4" r="1.8"/>
<circle cx="158.5" cy="96.8" r="1.8"/>
<circle cx="146.1" cy="172.2" r="1.8"/>
<circle cx="141.9" cy="181.3" r="1.8"/>
<circle cx="160.5" cy="179.2" r="1.8"/>
<circle cx="137" cy="182.8" r="1.8"/>
<circle cx="144.9" cy="190.2" r="1.8"/>
<circle cx="149.7" cy="196.6" r="1.8"/>
<circle cx="140.2" cy="202.5" r="1.8"/>
<circle cx="142.4" cy="204" r="1.8"/>
<circle cx="148.3" cy="204" r="1.8"/>
<circle cx="132.2" cy="206.6" r="1.8"/>
<circle cx="134" cy="206" r="1.8"/>
<circle cx="133" cy="208.2" r="1.8"/>
<circle cx="131.9" cy="213.6" r="1.8"/>
<circle cx="137.6" cy="214" r="1.8"/>
<circle cx="140.7" cy="211.5" r="1.8"/>
<circle cx="143.7" cy="212.7" r="1.8"/>
<circle cx="148.3" cy="215.4" r="1.8"/>
<circle cx="131.2" cy="211" r="1.8"/>
<circle cx="178" cy="216" r="1.8"/>
<circle cx="135.3" cy="207" r="1.8"/>
</g>
<text class="s" x="177.70" y="42.80" font-size="6.94" fill="#000" stroke="#000" stroke-width="0.2" textLength="26.60" lengthAdjust="spacingAndGlyphs">ERG251</text>
<text class="s" x="160.70" y="77.90" font-size="6.98" fill="#000" stroke="#000" stroke-width="0.2" textLength="19.00" lengthAdjust="spacingAndGlyphs">ERG6</text>
<text class="s" x="153.10" y="93.50" font-size="6.72" fill="#000" stroke="#000" stroke-width="0.2" textLength="18.30" lengthAdjust="spacingAndGlyphs">ERG1</text>
<text class="s" x="139.80" y="168.50" font-size="7.07" fill="#000" stroke="#000" stroke-width="0.2" textLength="23.20" lengthAdjust="spacingAndGlyphs">ERG24</text>
<text class="s" x="137.00" y="178.60" font-size="5.49" fill="#000" stroke="#000" stroke-width="0.2" textLength="17.60" lengthAdjust="spacingAndGlyphs">ERG11</text>
<text class="s" x="163.00" y="180.70" font-size="6.65" fill="#000" stroke="#000" stroke-width="0.2" textLength="17.00" lengthAdjust="spacingAndGlyphs">FRP1</text>
<text class="s" x="117.50" y="183.60" font-size="6.32" fill="#000" stroke="#000" stroke-width="0.2" textLength="17.20" lengthAdjust="spacingAndGlyphs">ERG5</text>
<text class="s" x="147.50" y="190.40" font-size="6.32" fill="#000" stroke="#000" stroke-width="0.2" textLength="17.20" lengthAdjust="spacingAndGlyphs">ERG2</text>
<text class="s" x="135.60" y="198.30" font-size="5.84" fill="#000" stroke="#000" stroke-width="0.2" textLength="15.90" lengthAdjust="spacingAndGlyphs">ERG4</text>
<text class="s" x="117.50" y="203.70" font-size="5.51" fill="#000" stroke="#000" stroke-width="0.2" textLength="15.00" lengthAdjust="spacingAndGlyphs">ERG7</text>
<text class="s" x="173.20" y="212.50" font-size="6.90" fill="#000" stroke="#000" stroke-width="0.2" textLength="18.80" lengthAdjust="spacingAndGlyphs">SOU2</text>
<text class="s" x="65.30" y="172.90" font-size="6.98" fill="#000" stroke="#000" stroke-width="0.2" textLength="22.50" lengthAdjust="spacingAndGlyphs">MET13</text>
<text class="s" x="47.50" y="193.40" font-size="7.07" fill="#000" stroke="#000" stroke-width="0.2" textLength="22.00" lengthAdjust="spacingAndGlyphs">VPS23</text>
<text class="s" x="56.00" y="202.70" font-size="7.03" fill="#000" stroke="#000" stroke-width="0.2" textLength="17.20" lengthAdjust="spacingAndGlyphs">ALS7</text>
<text class="s" x="37.60" y="204.40" font-size="5.60" fill="#000" stroke="#000" stroke-width="0.2" textLength="13.60" lengthAdjust="spacingAndGlyphs">BTA1</text>
<text class="s" x="17.00" y="211.50" font-size="6.83" fill="#000" stroke="#000" stroke-width="0.2" textLength="22.00" lengthAdjust="spacingAndGlyphs">FMP45</text>
<circle cx="19.5" cy="58.7" r="1.7" fill="#4ab2bd" stroke="#2d8b96" stroke-width="0.4"/>
<circle cx="19.5" cy="66.75" r="1.15" fill="none" stroke="#333" stroke-width="0.35"/>
<circle cx="19.5" cy="74.6" r="1.8" fill="#85144b"/>
<text class="s" x="26.90" y="60.20" font-size="7.2" fill="#000" stroke="#000" stroke-width="0.2">Down</text>
<text class="s" x="26.90" y="69.20" font-size="7.2" fill="#000" stroke="#000" stroke-width="0.2" textLength="45.30" lengthAdjust="spacingAndGlyphs">Nonsignificant</text>
<text class="s" x="26.90" y="77.00" font-size="7.2" fill="#000" stroke="#000" stroke-width="0.2">Up</text>
<text class="s" x="8.50" y="66.11" font-size="7.3" fill="#4d4d4d" stroke="#4d4d4d" stroke-width="0.1" text-anchor="end" textLength="7.60" lengthAdjust="spacingAndGlyphs">30</text>
<text class="s" x="8.50" y="118.84" font-size="7.3" fill="#4d4d4d" stroke="#4d4d4d" stroke-width="0.1" text-anchor="end" textLength="7.60" lengthAdjust="spacingAndGlyphs">20</text>
<text class="s" x="8.50" y="171.57" font-size="7.3" fill="#4d4d4d" stroke="#4d4d4d" stroke-width="0.1" text-anchor="end" textLength="7.60" lengthAdjust="spacingAndGlyphs">10</text>
<text class="s" x="8.50" y="224.30" font-size="7.3" fill="#4d4d4d" stroke="#4d4d4d" stroke-width="0.1" text-anchor="end" textLength="3.80" lengthAdjust="spacingAndGlyphs">0</text>
<text class="s" x="14.80" y="238.00" font-size="6.8" fill="#4d4d4d" stroke="#4d4d4d" stroke-width="0.1" text-anchor="middle">−2</text>
<text class="s" x="60.30" y="238.00" font-size="6.8" fill="#4d4d4d" stroke="#4d4d4d" stroke-width="0.1" text-anchor="middle">−1</text>
<text class="s" x="107.80" y="238.00" font-size="6.8" fill="#4d4d4d" stroke="#4d4d4d" stroke-width="0.1" text-anchor="middle">0</text>
<text class="s" x="153.30" y="238.00" font-size="6.8" fill="#4d4d4d" stroke="#4d4d4d" stroke-width="0.1" text-anchor="middle">1</text>
<text class="s" x="198.80" y="238.00" font-size="6.8" fill="#4d4d4d" stroke="#4d4d4d" stroke-width="0.1" text-anchor="middle">2</text>
<text class="s" x="108.50" y="251.20" font-size="8.0" fill="#000" stroke="#000" stroke-width="0.2" text-anchor="middle" textLength="58.50" lengthAdjust="spacingAndGlyphs">log2Fold Change</text>
<text class="s" font-size="7.9" stroke="#000" stroke-width="0.16" text-anchor="middle" transform="translate(11.6 142.5) rotate(-90)">−log10(padj)</text>
<text class="s" x="13.90" y="6.50" font-size="8.5" fill="#000" stroke="#000" stroke-width="0.2" textLength="7.00" lengthAdjust="spacingAndGlyphs">A.</text>
</g>
<g id="panelB">
<text class="s" x="218.40" y="6.50" font-size="8.5" fill="#000" stroke="#000" stroke-width="0.2" textLength="7.00" lengthAdjust="spacingAndGlyphs">B.</text>
<text class="s" x="287.90" y="46.00" font-size="7.1" fill="#000" stroke="#000" stroke-width="0.2" textLength="48.00" lengthAdjust="spacingAndGlyphs">Downregulated</text>
<text class="s" x="347.90" y="46.00" font-size="7.1" fill="#000" stroke="#000" stroke-width="0.2" textLength="38.60" lengthAdjust="spacingAndGlyphs">Upregulated</text>
<rect x="274.0" y="55.0" width="63.6" height="57.0" fill="#4bb3bd" stroke="#4a4a4a" stroke-width="0.45"/>
<rect x="296.4" y="119.3" width="40.1" height="57.3" fill="#fff" stroke="#4a4a4a" stroke-width="0.45"/>
<rect x="343.3" y="50.0" width="57.0" height="17.4" fill="#85144b" stroke="#4a4a4a" stroke-width="0.45"/>
<rect x="343.3" y="69.6" width="45.5" height="17.4" fill="#c98ea9" stroke="#4a4a4a" stroke-width="0.45"/>
<rect x="343.3" y="88.9" width="45.5" height="17.4" fill="#fbf7f9" stroke="#4a4a4a" stroke-width="0.45"/>
<rect x="343.3" y="108.3" width="26.2" height="17.4" fill="#ffffff" stroke="#4a4a4a" stroke-width="0.45"/>
<rect x="343.3" y="127.5" width="20.2" height="17.4" fill="#ffffff" stroke="#4a4a4a" stroke-width="0.45"/>
<rect x="343.3" y="146.5" width="3.3" height="17.4" fill="#fdf6f9" stroke="#4a4a4a" stroke-width="0.45"/>
<rect x="343.3" y="166.0" width="3.1" height="17.4" fill="#fdf6f9" stroke="#4a4a4a" stroke-width="0.45"/>
<text class="r" x="404.80" y="58.20" font-size="6.5" fill="#000" stroke="#000" stroke-width="0.2" textLength="120.90" lengthAdjust="spacingAndGlyphs">Ergosterol biosynthetic process (GO:0006696)</text>
<text class="r" x="393.00" y="78.30" font-size="6.5" fill="#000" stroke="#000" stroke-width="0.2" textLength="110.50" lengthAdjust="spacingAndGlyphs">Sterol biosynthetic process (GO:0016126)</text>
<text class="r" x="393.00" y="97.50" font-size="6.5" fill="#000" stroke="#000" stroke-width="0.2" textLength="103.80" lengthAdjust="spacingAndGlyphs">Sterol metabolic process (GO:0016125)</text>
<text class="r" x="374.90" y="117.00" font-size="6.5" fill="#000" stroke="#000" stroke-width="0.2" textLength="121.10" lengthAdjust="spacingAndGlyphs">Sphingolipid metabolic process (GO:0006665)</text>
<text class="r" x="366.90" y="136.50" font-size="6.5" fill="#000" stroke="#000" stroke-width="0.2" textLength="126.90" lengthAdjust="spacingAndGlyphs">Iron ion transmembrane transport (GO:0034755)</text>
<text class="r" x="350.70" y="153.30" font-size="6.5" fill="#000" stroke="#000" stroke-width="0.2" textLength="130.30" lengthAdjust="spacingAndGlyphs">Filamentous growth in response to biotic stimulus</text>
<text class="r" x="350.70" y="160.70" font-size="6.5" fill="#000" stroke="#000" stroke-width="0.2">(GO:0036180)</text>
<text class="r" x="350.00" y="172.40" font-size="6.5" fill="#000" stroke="#000" stroke-width="0.2" textLength="117.00" lengthAdjust="spacingAndGlyphs">Filamentous growth in response to starvation</text>
<text class="r" x="350.00" y="179.80" font-size="6.5" fill="#000" stroke="#000" stroke-width="0.2">(GO:0036170)</text>
<line x1="401.2" x2="402.2" y1="58.7" y2="58.7" stroke="#555" stroke-width="0.45"/>
<line x1="389.7" x2="390.7" y1="78.3" y2="78.3" stroke="#555" stroke-width="0.45"/>
<line x1="389.7" x2="390.7" y1="97.6" y2="97.6" stroke="#555" stroke-width="0.45"/>
<line x1="370.4" x2="371.4" y1="117.0" y2="117.0" stroke="#555" stroke-width="0.45"/>
<line x1="364.4" x2="365.4" y1="136.2" y2="136.2" stroke="#555" stroke-width="0.45"/>
<line x1="347.5" x2="348.5" y1="155.2" y2="155.2" stroke="#555" stroke-width="0.45"/>
<line x1="347.3" x2="348.3" y1="174.7" y2="174.7" stroke="#555" stroke-width="0.45"/>
<line x1="294.4" x2="295.4" y1="148" y2="148" stroke="#555" stroke-width="0.45"/>
<text class="r" x="215.70" y="76.40" font-size="6.5" fill="#000" stroke="#000" stroke-width="0.2">Inositolphospho-</text>
<text class="r" x="215.70" y="84.20" font-size="6.5" fill="#000" stroke="#000" stroke-width="0.2" textLength="55.70" lengthAdjust="spacingAndGlyphs">ceramide metabolism</text>
<text class="r" x="215.70" y="91.90" font-size="6.5" fill="#000" stroke="#000" stroke-width="0.2">(GO:0006673)</text>
<text class="r" x="248.60" y="148.90" font-size="6.5" fill="#000" stroke="#000" stroke-width="0.2">G2/M transition</text>
<text class="r" x="248.60" y="156.40" font-size="6.5" fill="#000" stroke="#000" stroke-width="0.2">(GO:0000086)</text>
<text class="r" font-size="7.75" stroke="#000" stroke-width="0.16" text-anchor="middle" transform="translate(226.9 124.7) rotate(-90)">GO Terms</text>
<text class="s" x="278.60" y="195.30" font-size="6.6" fill="#5a5a5a" stroke="#5a5a5a" stroke-width="0.05" text-anchor="middle">30</text>
<line x1="278.6" x2="278.6" y1="186.2" y2="187.2" stroke="#888" stroke-width="0.4"/>
<text class="s" x="296.80" y="195.30" font-size="6.6" fill="#5a5a5a" stroke="#5a5a5a" stroke-width="0.05" text-anchor="middle">20</text>
<line x1="296.8" x2="296.8" y1="186.2" y2="187.2" stroke="#888" stroke-width="0.4"/>
<text class="s" x="315.20" y="195.30" font-size="6.6" fill="#5a5a5a" stroke="#5a5a5a" stroke-width="0.05" text-anchor="middle">10</text>
<line x1="315.2" x2="315.2" y1="186.2" y2="187.2" stroke="#888" stroke-width="0.4"/>
<text class="s" x="334.10" y="195.30" font-size="6.6" fill="#5a5a5a" stroke="#5a5a5a" stroke-width="0.05" text-anchor="middle">0</text>
<line x1="334.1" x2="334.1" y1="186.2" y2="187.2" stroke="#888" stroke-width="0.4"/>
<text class="s" x="344.00" y="195.30" font-size="6.6" fill="#5a5a5a" stroke="#5a5a5a" stroke-width="0.05" text-anchor="middle">0</text>
<line x1="344" x2="344" y1="186.2" y2="187.2" stroke="#888" stroke-width="0.4"/>
<text class="s" x="361.90" y="195.30" font-size="6.6" fill="#5a5a5a" stroke="#5a5a5a" stroke-width="0.05" text-anchor="middle">20</text>
<line x1="361.9" x2="361.9" y1="186.2" y2="187.2" stroke="#888" stroke-width="0.4"/>
<text class="s" x="379.20" y="195.30" font-size="6.6" fill="#5a5a5a" stroke="#5a5a5a" stroke-width="0.05" text-anchor="middle">40</text>
<line x1="379.2" x2="379.2" y1="186.2" y2="187.2" stroke="#888" stroke-width="0.4"/>
<text class="s" x="397.10" y="195.30" font-size="6.6" fill="#5a5a5a" stroke="#5a5a5a" stroke-width="0.05" text-anchor="middle">60</text>
<line x1="397.1" x2="397.1" y1="186.2" y2="187.2" stroke="#888" stroke-width="0.4"/>
<text class="r" x="344.70" y="205.00" font-size="7.8" fill="#000" stroke="#000" stroke-width="0.2" text-anchor="middle" textLength="52.50" lengthAdjust="spacingAndGlyphs">Fold Enrichment</text>
<defs><linearGradient id="gt" x1="0" y1="0" x2="0" y2="1"><stop offset="0" stop-color="#4bb3bd"/><stop offset="1" stop-color="#ffffff"/></linearGradient><linearGradient id="gm" x1="0" y1="0" x2="0" y2="1"><stop offset="0" stop-color="#85144b"/><stop offset="1" stop-color="#ffffff"/></linearGradient></defs>
<rect x="221.2" y="157" width="5.7" height="29" fill="url(#gt)"/>
<text class="s" x="229.30" y="162.80" font-size="3.9" fill="#222" stroke="#222" stroke-width="0.12">1.20</text>
<text class="s" x="229.30" y="170.20" font-size="3.9" fill="#222" stroke="#222" stroke-width="0.12">1.15</text>
<text class="s" x="229.30" y="177.70" font-size="3.9" fill="#222" stroke="#222" stroke-width="0.12">1.10</text>
<text class="s" x="229.30" y="185.20" font-size="3.9" fill="#222" stroke="#222" stroke-width="0.12">1.05</text>
<text class="s" x="216.20" y="196.10" font-size="5.8" fill="#000" stroke="#000" stroke-width="0.2" textLength="40.00" lengthAdjust="spacingAndGlyphs">−log10(PValue)</text>
<rect x="490" y="161.5" width="5.9" height="27.8" fill="url(#gm)"/>
<text class="s" x="497.60" y="167.00" font-size="3.9" fill="#222" stroke="#222" stroke-width="0.12">20</text>
<text class="s" x="497.60" y="173.60" font-size="3.9" fill="#222" stroke="#222" stroke-width="0.12">15</text>
<text class="s" x="497.60" y="180.00" font-size="3.9" fill="#222" stroke="#222" stroke-width="0.12">10</text>
<text class="s" x="497.60" y="186.50" font-size="3.9" fill="#222" stroke="#222" stroke-width="0.12">5</text>
<text class="s" x="476.00" y="196.20" font-size="5.8" fill="#000" stroke="#000" stroke-width="0.2" textLength="39.60" lengthAdjust="spacingAndGlyphs">−log10(PValue)</text>
</g>
<g id="panelC">
<text class="s" x="533.40" y="6.50" font-size="8.5" fill="#000" stroke="#000" stroke-width="0.2" textLength="7.20" lengthAdjust="spacingAndGlyphs">C.</text>
<line x1="568" x2="685" y1="202.06" y2="202.06" stroke="#f6f6f6" stroke-width="0.4"/>
<line x1="568" x2="685" y1="154.14" y2="154.14" stroke="#f6f6f6" stroke-width="0.4"/>
<line x1="568" x2="685" y1="106.22" y2="106.22" stroke="#f6f6f6" stroke-width="0.4"/>
<line x1="568" x2="685" y1="58.30" y2="58.30" stroke="#f6f6f6" stroke-width="0.4"/>
<line x1="568" x2="685" y1="178.10" y2="178.10" stroke="#f0f0f0" stroke-width="0.6"/>
<line x1="568" x2="685" y1="130.18" y2="130.18" stroke="#f0f0f0" stroke-width="0.6"/>
<line x1="568" x2="685" y1="82.26" y2="82.26" stroke="#f0f0f0" stroke-width="0.6"/>
<line x1="568" x2="685" y1="34.34" y2="34.34" stroke="#f0f0f0" stroke-width="0.6"/>
<line x1="599.6" x2="599.6" y1="27.5" y2="204.6" stroke="#f0f0f0" stroke-width="0.6"/>
<line x1="653" x2="653" y1="27.5" y2="204.6" stroke="#f0f0f0" stroke-width="0.6"/>
<path d="M599.60 35.20C599.57 35.75 599.50 37.37 599.40 38.50C599.30 39.63 599.20 40.58 599.00 42.00C598.80 43.42 598.50 44.88 598.20 47.00C597.90 49.12 597.30 52.20 597.20 54.70C597.10 57.20 597.42 59.78 597.60 62.00C597.78 64.22 598.05 66.08 598.30 68.00C598.55 69.92 599.08 71.17 599.10 73.50C599.12 75.83 598.95 79.18 598.40 82.00C597.85 84.82 597.22 87.58 595.80 90.40C594.38 93.22 592.52 96.47 589.90 98.90C587.28 101.33 582.32 103.40 580.10 105.00C577.88 106.60 577.43 107.08 576.60 108.50C575.77 109.92 575.02 111.92 575.10 113.50C575.18 115.08 576.12 116.58 577.10 118.00C578.08 119.42 578.95 119.93 581.00 122.00C583.05 124.07 587.43 128.07 589.40 130.40C591.37 132.73 592.08 134.40 592.80 136.00C593.52 137.60 593.60 138.10 593.70 140.00C593.80 141.90 593.38 145.57 593.40 147.40C593.42 149.23 593.33 149.13 593.80 151.00C594.27 152.87 595.48 156.22 596.20 158.60C596.92 160.98 597.62 163.40 598.10 165.30C598.58 167.20 598.85 168.58 599.10 170.00C599.35 171.42 599.52 173.17 599.60 173.80 L599.60 173.80C599.68 173.17 599.85 171.42 600.10 170.00C600.35 168.58 600.62 167.20 601.10 165.30C601.58 163.40 602.28 160.98 603.00 158.60C603.72 156.22 604.93 152.87 605.40 151.00C605.87 149.13 605.78 149.23 605.80 147.40C605.82 145.57 605.40 141.90 605.50 140.00C605.60 138.10 605.68 137.60 606.40 136.00C607.12 134.40 607.83 132.73 609.80 130.40C611.77 128.07 616.15 124.07 618.20 122.00C620.25 119.93 621.12 119.42 622.10 118.00C623.08 116.58 624.02 115.08 624.10 113.50C624.18 111.92 623.43 109.92 622.60 108.50C621.77 107.08 621.32 106.60 619.10 105.00C616.88 103.40 611.92 101.33 609.30 98.90C606.68 96.47 604.82 93.22 603.40 90.40C601.98 87.58 601.35 84.82 600.80 82.00C600.25 79.18 600.08 75.83 600.10 73.50C600.12 71.17 600.65 69.92 600.90 68.00C601.15 66.08 601.42 64.22 601.60 62.00C601.78 59.78 602.10 57.20 602.00 54.70C601.90 52.20 601.30 49.12 601.00 47.00C600.70 44.88 600.40 43.42 600.20 42.00C600.00 40.58 599.90 39.63 599.80 38.50C599.70 37.37 599.63 35.75 599.60 35.20Z" fill="#b0e0e6" stroke="#333" stroke-width="0.35" stroke-linejoin="round"/>
<path d="M653.00 46.20C652.95 46.75 652.85 48.45 652.70 49.50C652.55 50.55 652.38 51.08 652.10 52.50C651.82 53.92 651.33 56.25 651.00 58.00C650.67 59.75 650.27 61.50 650.10 63.00C649.93 64.50 649.85 65.67 650.00 67.00C650.15 68.33 650.67 69.67 651.00 71.00C651.33 72.33 651.78 73.33 652.00 75.00C652.22 76.67 652.27 79.00 652.30 81.00C652.33 83.00 652.27 85.17 652.20 87.00C652.13 88.83 652.05 90.33 651.90 92.00C651.75 93.67 651.62 95.33 651.30 97.00C650.98 98.67 650.48 100.27 650.00 102.00C649.52 103.73 648.72 105.77 648.40 107.40C648.08 109.03 648.03 110.37 648.10 111.80C648.17 113.23 648.60 114.63 648.80 116.00C649.00 117.37 649.30 118.67 649.30 120.00C649.30 121.33 649.07 122.83 648.80 124.00C648.53 125.17 648.20 125.92 647.70 127.00C647.20 128.08 646.62 129.37 645.80 130.50C644.98 131.63 644.27 132.40 642.80 133.80C641.33 135.20 638.60 137.37 637.00 138.90C635.40 140.43 634.17 141.58 633.20 143.00C632.23 144.42 631.57 146.23 631.20 147.40C630.83 148.57 630.95 149.15 631.00 150.00C631.05 150.85 631.08 151.63 631.50 152.50C631.92 153.37 632.50 154.20 633.50 155.20C634.50 156.20 636.08 157.37 637.50 158.50C638.92 159.63 640.88 160.92 642.00 162.00C643.12 163.08 643.63 163.88 644.20 165.00C644.77 166.12 645.13 167.53 645.40 168.70C645.67 169.87 645.65 170.87 645.80 172.00C645.95 173.13 645.98 174.33 646.30 175.50C646.62 176.67 647.20 177.87 647.70 179.00C648.20 180.13 648.78 181.00 649.30 182.30C649.82 183.60 650.32 185.27 650.80 186.80C651.28 188.33 651.83 189.90 652.20 191.50C652.57 193.10 652.87 195.58 653.00 196.40 L653.00 196.40C653.13 195.58 653.43 193.10 653.80 191.50C654.17 189.90 654.72 188.33 655.20 186.80C655.68 185.27 656.18 183.60 656.70 182.30C657.22 181.00 657.80 180.13 658.30 179.00C658.80 177.87 659.38 176.67 659.70 175.50C660.02 174.33 660.05 173.13 660.20 172.00C660.35 170.87 660.33 169.87 660.60 168.70C660.87 167.53 661.23 166.12 661.80 165.00C662.37 163.88 662.88 163.08 664.00 162.00C665.12 160.92 667.08 159.63 668.50 158.50C669.92 157.37 671.50 156.20 672.50 155.20C673.50 154.20 674.08 153.37 674.50 152.50C674.92 151.63 674.95 150.85 675.00 150.00C675.05 149.15 675.17 148.57 674.80 147.40C674.43 146.23 673.77 144.42 672.80 143.00C671.83 141.58 670.60 140.43 669.00 138.90C667.40 137.37 664.67 135.20 663.20 133.80C661.73 132.40 661.02 131.63 660.20 130.50C659.38 129.37 658.80 128.08 658.30 127.00C657.80 125.92 657.47 125.17 657.20 124.00C656.93 122.83 656.70 121.33 656.70 120.00C656.70 118.67 657.00 117.37 657.20 116.00C657.40 114.63 657.83 113.23 657.90 111.80C657.97 110.37 657.92 109.03 657.60 107.40C657.28 105.77 656.48 103.73 656.00 102.00C655.52 100.27 655.02 98.67 654.70 97.00C654.38 95.33 654.25 93.67 654.10 92.00C653.95 90.33 653.87 88.83 653.80 87.00C653.73 85.17 653.67 83.00 653.70 81.00C653.73 79.00 653.78 76.67 654.00 75.00C654.22 73.33 654.67 72.33 655.00 71.00C655.33 69.67 655.85 68.33 656.00 67.00C656.15 65.67 656.07 64.50 655.90 63.00C655.73 61.50 655.33 59.75 655.00 58.00C654.67 56.25 654.18 53.92 653.90 52.50C653.62 51.08 653.45 50.55 653.30 49.50C653.15 48.45 653.05 46.75 653.00 46.20Z" fill="#85004b" stroke="#5a0033" stroke-width="0.35" stroke-linejoin="round"/>
<circle cx="599.7" cy="116.4" r="1.3" fill="#000"/>
<circle cx="653" cy="143.4" r="1.3" fill="#000"/>
<text class="s" x="566.10" y="37.14" font-size="6.8" fill="#5c5c5c" stroke="#5c5c5c" stroke-width="0.05" text-anchor="end">0.16</text>
<text class="s" x="566.10" y="85.06" font-size="6.8" fill="#5c5c5c" stroke="#5c5c5c" stroke-width="0.05" text-anchor="end">0.12</text>
<text class="s" x="566.10" y="132.98" font-size="6.8" fill="#5c5c5c" stroke="#5c5c5c" stroke-width="0.05" text-anchor="end">0.08</text>
<text class="s" x="566.10" y="180.90" font-size="6.8" fill="#5c5c5c" stroke="#5c5c5c" stroke-width="0.05" text-anchor="end">0.04</text>
<text class="s" x="601.00" y="216.40" font-size="7.1" fill="#555" stroke="#555" stroke-width="0.08" text-anchor="middle" textLength="23.00" lengthAdjust="spacingAndGlyphs">Control</text>
<text class="s" x="652.90" y="216.40" font-size="7.1" fill="#555" stroke="#555" stroke-width="0.08" text-anchor="middle" textLength="37.70" lengthAdjust="spacingAndGlyphs">Fluconazole</text>
<text class="d" font-size="7.8" stroke="#000" stroke-width="0.3" text-anchor="middle" transform="translate(544.9 120.4) rotate(-90) scale(0.9 1)">Codon Protection Index</text>
</g>
</svg>
</body></html>
